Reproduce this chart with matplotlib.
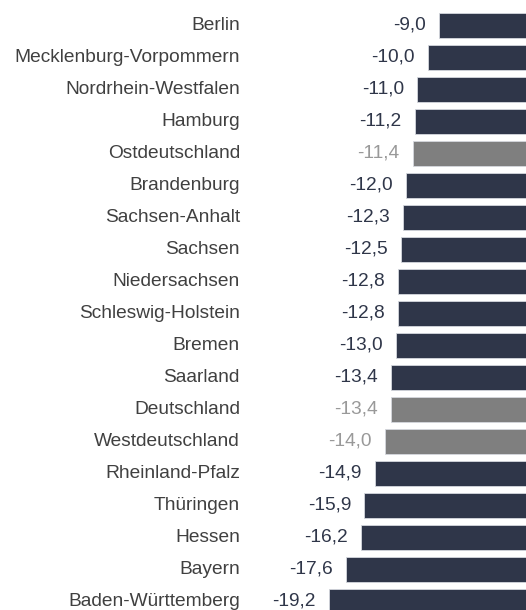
import matplotlib.pyplot as plt

# Veränderung in Prozent, sortiert
laender = ['Berlin', 'Mecklenburg-Vorpommern', 'Nordrhein-Westfalen', 'Hamburg',
           'Ostdeutschland', 'Brandenburg', 'Sachsen-Anhalt', 'Sachsen',
           'Niedersachsen', 'Schleswig-Holstein', 'Bremen', 'Saarland',
           'Deutschland', 'Westdeutschland', 'Rheinland-Pfalz', 'Thüringen',
           'Hessen', 'Bayern', 'Baden-Württemberg']
werte = [-9.0, -10.0, -11.0, -11.2, -11.4, -12.0, -12.3, -12.5, -12.8, -12.8,
         -13.0, -13.4, -13.4, -14.0, -14.9, -15.9, -16.2, -17.6, -19.2]
aggregate = ['Ostdeutschland', 'Deutschland', 'Westdeutschland']

navy = '#2f3649'
grau = '#7f7f7f'

fig = plt.figure(figsize=(5.26, 6.10), dpi=100)
ax = fig.add_axes([0, 0, 1, 1])
plt.rcParams['font.family'] = ['Liberation Sans', 'DejaVu Sans']

y = list(range(len(laender)))
farben = [grau if l in aggregate else navy for l in laender]
ax.barh(y, werte, height=0.8, color=farben, edgecolor='#d5d8de', linewidth=0.6)

for i, (l, w) in enumerate(zip(laender, werte)):
    tc = '#999999' if l in aggregate else navy
    ax.annotate(f'{w:.1f}'.replace('.', ','), (w, i), xytext=(-9.5, 0),
                textcoords='offset points', ha='right', va='center',
                fontsize=13.8, color=tc)
    ax.text(-27.41, i, l, ha='right', va='center', fontsize=13.8, color='#404040')

# Achse so, dass Null knapp rechts vom Bildrand liegt
ax.set_xlim(-49.63, -0.926)
ax.set_ylim(18.27, -0.797)
ax.axis('off')

fig.savefig('out.png', dpi=100)
